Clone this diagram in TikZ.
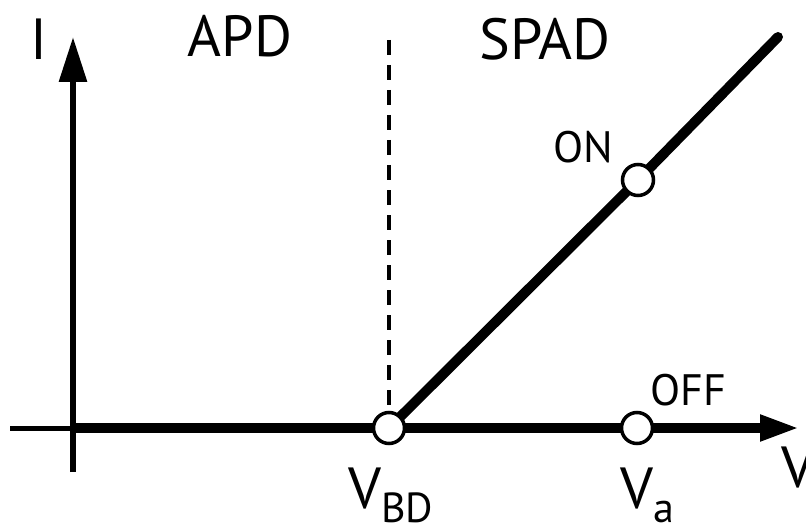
\documentclass[tikz,border=0pt]{standalone}
\usepackage{fontspec}
\setmainfont{PT Sans}
\usetikzlibrary{arrows.meta}

\newcommand{\bigtxt}[1]{\fontsize{58}{60}\selectfont #1}
\newcommand{\midtxt}[1]{\fontsize{44}{46}\selectfont #1}
\newcommand{\subtxt}[1]{\raisebox{-14pt}{\fontsize{42}{44}\selectfont #1}}

\begin{document}
\begin{tikzpicture}[x=1pt,y=-1pt,
    pt/.style={circle, draw, line width=3.5pt, fill=white, minimum size=31pt, inner sep=0pt},
    lbl/.style={inner sep=0pt, anchor=base}]
    \useasboundingbox (0,0) rectangle (806,524);

    \coordinate (left) at (10,428);
    \coordinate (o) at (73,428);
    \coordinate (ibot) at (73,472);
    \coordinate (itop) at (73,37);
    \coordinate (vend) at (800,428);
    \coordinate (bd) at (389,428);
    \coordinate (va) at (637,428);
    \coordinate (on) at (638,180);
    \coordinate (top) at (778,37);
    \coordinate (dtop) at (389,40);

    % axes
    \draw[line width=5pt] (left) -- (o);
    \draw[line width=6pt, -{Triangle[length=45pt,width=27pt]}] (ibot) -- (itop);
    \draw[line width=10pt, -{Triangle[length=40pt,width=24pt]}] (o) -- (vend);

    % breakdown and the SPAD branch
    \draw[line width=4pt, dash pattern=on 15pt off 10pt] (dtop) -- (bd);
    \draw[line width=10pt, line cap=round] (bd) -- (on) -- (top);

    \node[pt] (bdpt) at (bd) {};
    \node[pt] (vapt) at (va) {};
    \node[pt] (onpt) at (on) {};

    % labels
    \node[lbl] (ilbl) at (39,60) {\bigtxt{I}};
    \node[lbl] (apd) at (240,57) {\bigtxt{APD}};
    \node[lbl] (spad) at (545,60) {\bigtxt{SPAD}};
    \node[lbl] (onlbl) at (583,163) {\midtxt{ON}};
    \node[lbl] (offlbl) at (688,405) {\midtxt{OFF}};
    \node[lbl, anchor=base west] (vbd) at (348,508) {\bigtxt{V}\subtxt{BD}};
    \node[lbl, anchor=base west] (vval) at (620,508) {\bigtxt{V}\subtxt{a}};
    \node[lbl, anchor=base west] (vlbl) at (781,487) {\bigtxt{V}};
\end{tikzpicture}
\end{document}
